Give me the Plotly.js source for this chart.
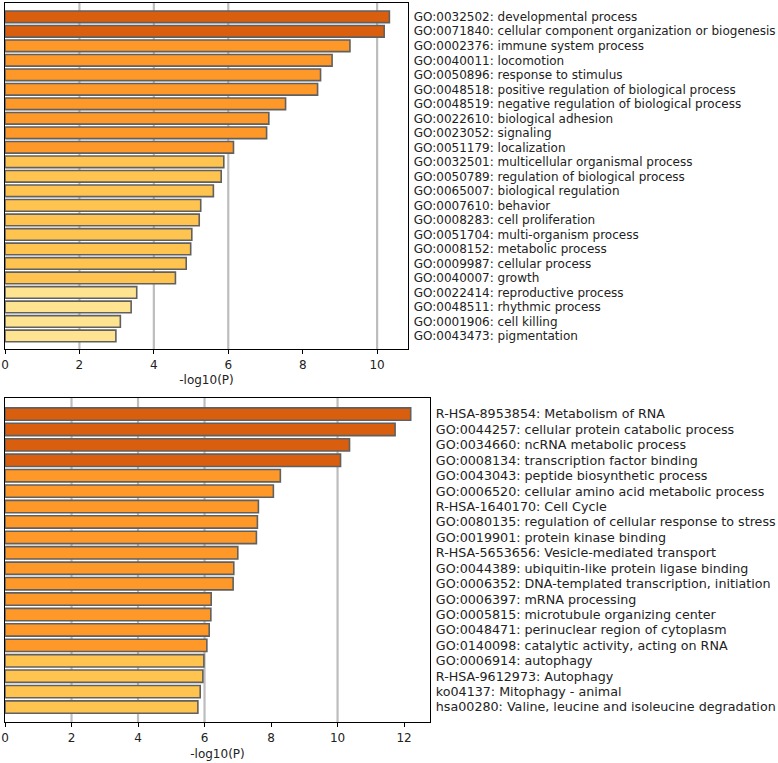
<!DOCTYPE html>
<html>
<head>
<meta charset="utf-8">
<script src="https://cdn.plot.ly/plotly-3.0.1.min.js"></script>
<style>html,body{margin:0;padding:0;background:#fff;}</style>
</head>
<body>
<div id="chart" style="width:778px;height:763px;"></div>
<script>
// Top panel
const topLabels = [
  "GO:0032502: developmental process",
  "GO:0071840: cellular component organization or biogenesis",
  "GO:0002376: immune system process",
  "GO:0040011: locomotion",
  "GO:0050896: response to stimulus",
  "GO:0048518: positive regulation of biological process",
  "GO:0048519: negative regulation of biological process",
  "GO:0022610: biological adhesion",
  "GO:0023052: signaling",
  "GO:0051179: localization",
  "GO:0032501: multicellular organismal process",
  "GO:0050789: regulation of biological process",
  "GO:0065007: biological regulation",
  "GO:0007610: behavior",
  "GO:0008283: cell proliferation",
  "GO:0051704: multi-organism process",
  "GO:0008152: metabolic process",
  "GO:0009987: cellular process",
  "GO:0040007: growth",
  "GO:0022414: reproductive process",
  "GO:0048511: rhythmic process",
  "GO:0001906: cell killing",
  "GO:0043473: pigmentation"
];
const topValues = [10.33, 10.19, 9.27, 8.79, 8.48, 8.40, 7.54, 7.09, 7.03, 6.14,
  5.88, 5.81, 5.60, 5.26, 5.22, 5.02, 4.99, 4.87, 4.58, 3.54, 3.39, 3.10, 2.98];
const topLevels = [0,0,1,1,1,1,1,1,1,1,2,2,2,2,2,2,2,2,2,3,3,3,3];

// Bottom panel
const botLabels = [
  "R-HSA-8953854: Metabolism of RNA",
  "GO:0044257: cellular protein catabolic process",
  "GO:0034660: ncRNA metabolic process",
  "GO:0008134: transcription factor binding",
  "GO:0043043: peptide biosynthetic process",
  "GO:0006520: cellular amino acid metabolic process",
  "R-HSA-1640170: Cell Cycle",
  "GO:0080135: regulation of cellular response to stress",
  "GO:0019901: protein kinase binding",
  "R-HSA-5653656: Vesicle-mediated transport",
  "GO:0044389: ubiquitin-like protein ligase binding",
  "GO:0006352: DNA-templated transcription, initiation",
  "GO:0006397: mRNA processing",
  "GO:0005815: microtubule organizing center",
  "GO:0048471: perinuclear region of cytoplasm",
  "GO:0140098: catalytic activity, acting on RNA",
  "GO:0006914: autophagy",
  "R-HSA-9612973: Autophagy",
  "ko04137: Mitophagy - animal",
  "hsa00280: Valine, leucine and isoleucine degradation"
];
const botValues = [12.20, 11.73, 10.36, 10.09, 8.28, 8.07, 7.62, 7.59, 7.56, 7.00,
  6.88, 6.86, 6.20, 6.19, 6.14, 6.07, 5.98, 5.95, 5.87, 5.80];
const botLevels = [0,0,0,0,1,1,1,1,1,1,1,1,1,1,1,1,2,2,2,2];

const palette = ["#D95F0E", "#FE9929", "#FEC44F", "#FEE391"];
const gridVals = [2, 4, 6, 10];
const tickVals = [0, 2, 4, 6, 8, 10, 12];

const font = "DejaVu Sans, sans-serif";

const traces = [
  {
    type: "bar", orientation: "h",
    x: topValues, y: topLabels,
    xaxis: "x", yaxis: "y",
    width: 0.8,
    marker: {color: topLevels.map(l => palette[l]), line: {color: "#606060", width: 1.6}},
    hoverinfo: "x+y"
  },
  {
    type: "bar", orientation: "h",
    x: botValues, y: botLabels,
    xaxis: "x2", yaxis: "y2",
    width: 0.8,
    marker: {color: botLevels.map(l => palette[l]), line: {color: "#606060", width: 1.6}},
    hoverinfo: "x+y"
  }
];

const shapes = [];
gridVals.forEach(v => {
  shapes.push({type: "line", xref: "x", yref: "y domain", x0: v, x1: v, y0: 0, y1: 1,
    line: {color: "#bdbdbd", width: 2.2}, layer: "below"});
  shapes.push({type: "line", xref: "x2", yref: "y2 domain", x0: v, x1: v, y0: 0, y1: 1,
    line: {color: "#bdbdbd", width: 2.2}, layer: "below"});
});

const W = 778, H = 763;
const xaxisCommon = {
  showgrid: false, zeroline: false,
  showline: true, mirror: true, linecolor: "#000", linewidth: 1.3,
  ticks: "outside", ticklen: 4, tickwidth: 1, tickcolor: "#000",
  tickvals: tickVals, ticktext: tickVals.map(String),
  tickfont: {family: font, size: 12, color: "#222"},
  fixedrange: true
};
const yaxisCommon = {
  type: "category",
  side: "right",
  showgrid: false, zeroline: false,
  showline: true, mirror: true, linecolor: "#000", linewidth: 1.3,
  ticks: "", ticklabelstandoff: 2,
  fixedrange: true
};

const layout = {
  width: W, height: H,
  margin: {l: 0, r: 0, t: 0, b: 0},
  paper_bgcolor: "#fff", plot_bgcolor: "#fff",
  showlegend: false,
  bargap: 0.2,
  shapes: shapes,
  xaxis: Object.assign({}, xaxisCommon, {
    domain: [5 / W, 408 / W], anchor: "y", range: [0, 10.83],
    title: {text: "-log10(P)", font: {family: font, size: 12, color: "#222"}, standoff: 5}
  }),
  yaxis: Object.assign({}, yaxisCommon, {
    domain: [1 - 349 / H, 1 - 3 / H], anchor: "x",
    range: [22.9, -0.95],
    tickfont: {family: font, size: 12, color: "#222"}
  }),
  xaxis2: Object.assign({}, xaxisCommon, {
    domain: [5 / W, 430 / W], anchor: "y2", range: [0, 12.78],
    title: {text: "-log10(P)", font: {family: font, size: 12, color: "#222"}, standoff: 6}
  }),
  yaxis2: Object.assign({}, yaxisCommon, {
    domain: [1 - 722 / H, 1 - 398 / H], anchor: "x2",
    range: [19.97, -1.04],
    tickfont: {family: font, size: 12.7, color: "#222"}
  })
};

Plotly.newPlot("chart", traces, layout, {displayModeBar: false, staticPlot: true});
</script>
</body>
</html>
